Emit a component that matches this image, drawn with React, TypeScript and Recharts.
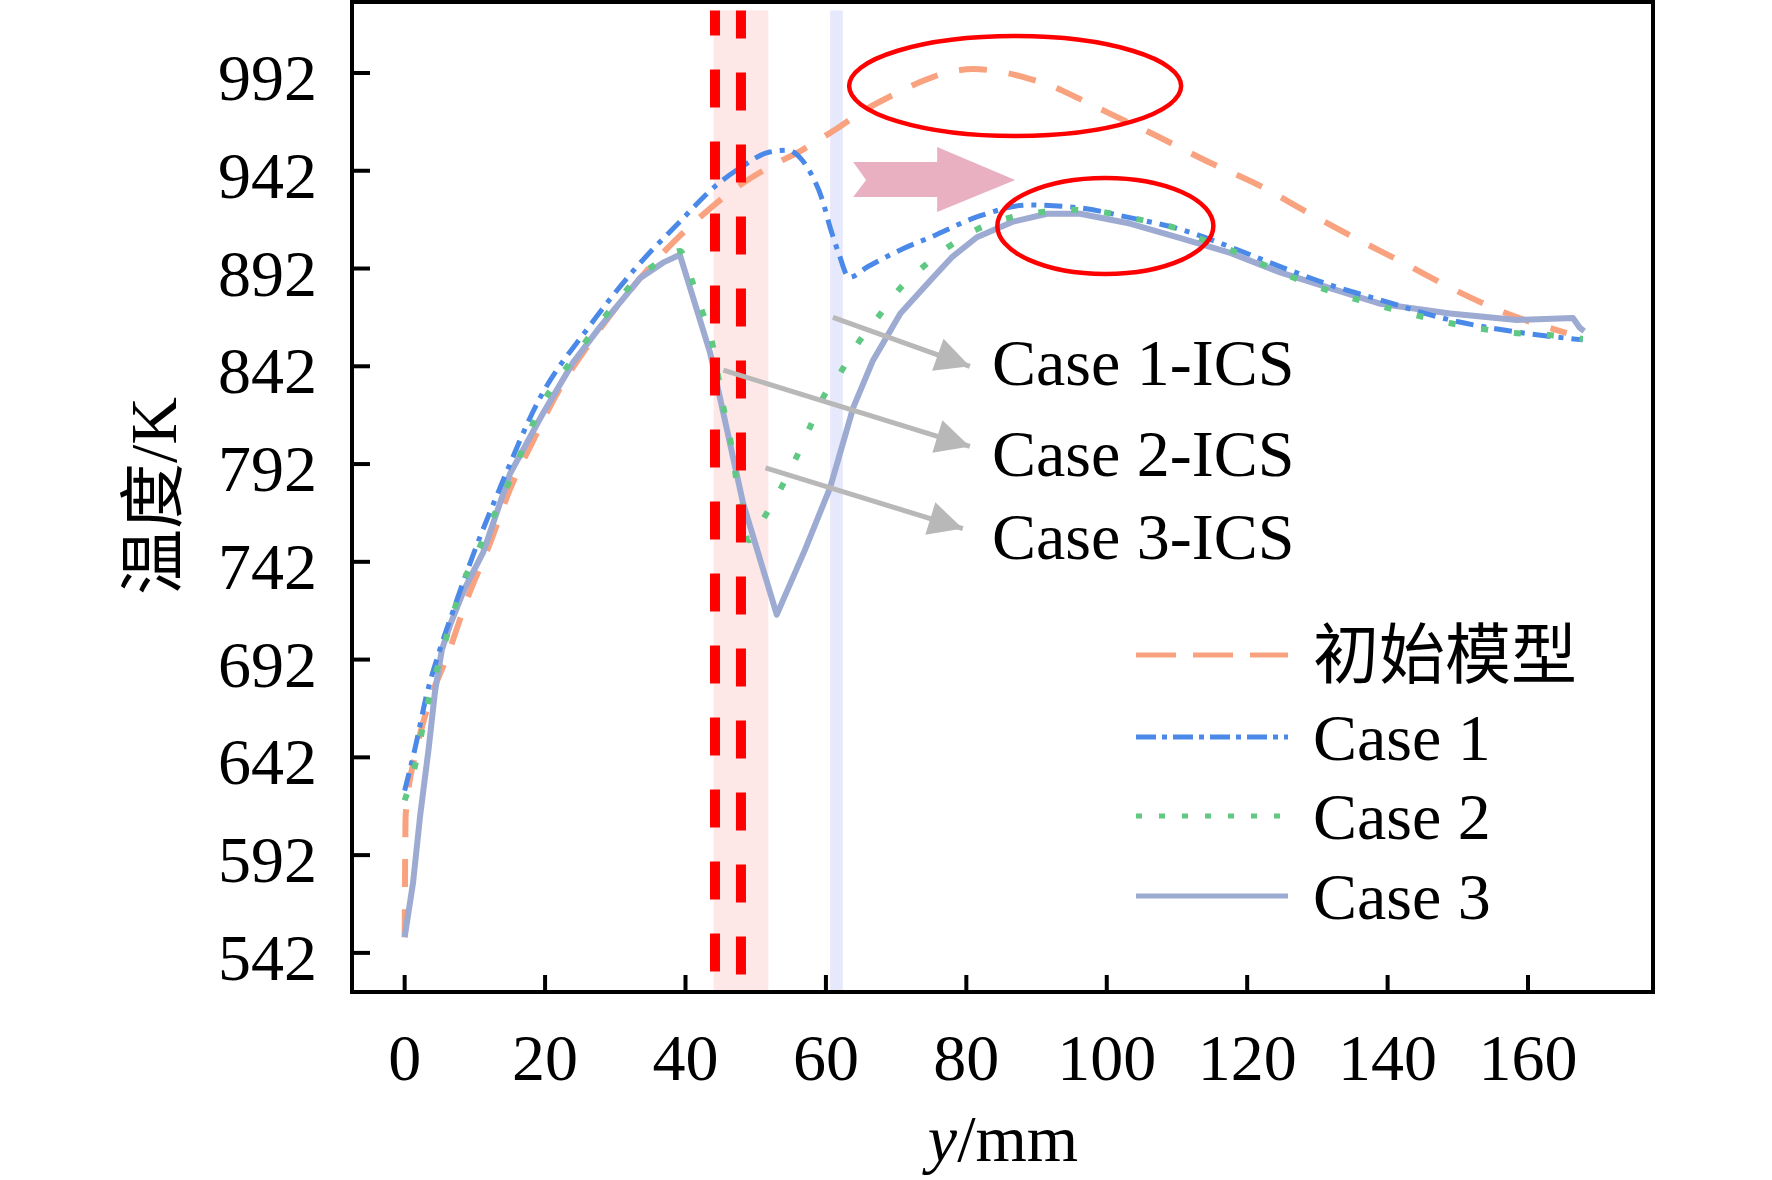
import React from 'react';
import { LineChart, Line, XAxis, YAxis, ReferenceArea, ReferenceLine, ReferenceDot } from 'recharts';

document.body.style.margin = '0';

// --- data (y in mm, temperature in K) ---
const initX = [0, 0.15, 1.7, 3.3, 6.2, 9, 12, 15, 18.3, 22, 26.4, 31, 36.8, 42, 47.5, 52, 56.6, 61.3, 65.5, 69.7, 73.5, 77, 81, 85, 89, 92.4, 96, 100, 107, 114.5, 122, 128.7, 135.7, 142.2, 149.6, 157, 164, 165.5];
const initT = [550, 613, 646, 668, 695, 724, 750, 779, 804, 830, 854, 876, 900, 918, 934, 944, 952.6, 963, 973, 981, 987.5, 992, 994, 992.5, 989, 985, 979, 972, 960, 946.5, 934, 920.5, 907, 895, 881, 869, 860.6, 859];

const case1X = [0, 1.5, 3.2, 5, 6.9, 9.8, 13.6, 19.3, 26, 32.6, 39.2, 44.2, 48, 52, 54.5, 56.6, 57.8, 59.5, 60.6, 61.8, 63.3, 66, 70.6, 74.9, 82, 89, 96.2, 103.3, 110.5, 117.6, 124.7, 131.8, 138.9, 148.9, 158.4, 167.8];
const case1T = [625, 647, 675, 697, 717, 746, 780, 826, 861, 891, 916, 934, 944, 951.6, 952.5, 947.5, 941, 927, 913, 900, 887.5, 893, 901.5, 908, 919, 924.5, 923, 918, 912, 903, 893, 883.6, 876, 865.7, 859.5, 855.5];

const case2X = [0, 1.5, 3, 4.6, 6, 8, 11, 15, 19.5, 24, 28, 33.5, 37, 39.2, 40.9, 42.3, 43.8, 45.4, 46.4, 47.8, 49, 50.9, 53.5, 55.6, 57.5, 59.6, 62.1, 64.6, 67.4, 70.6, 73.9, 77.4, 81.5, 86.2, 91, 95.3, 99.8, 104.7, 109.5, 113.8, 118, 122.3, 126.8, 131.3, 135.8, 142, 149, 158, 163, 167.8];
const case2T = [620, 638, 665, 687, 704, 728, 752, 784, 822, 846, 865, 888, 897, 901, 886, 871, 854, 821, 804, 771, 753, 763, 779, 794, 809, 826, 839, 854, 867, 882, 893, 903, 912, 918, 921, 922, 920.6, 917, 913, 906.6, 901, 894, 887, 881, 876, 870, 864, 859, 858, 856];

const case3X = [0, 1.2, 2.2, 3.4, 4.3, 5.3, 6.5, 8.5, 11.2, 15, 19.7, 24, 27.8, 33.5, 36.8, 39.2, 43.5, 48.2, 53, 57, 60.6, 63.9, 66.7, 70.6, 74.9, 78, 81.5, 86.7, 91.5, 96.2, 103.3, 110.5, 117.6, 124.7, 131.8, 138.9, 148.9, 158.4, 166.4, 167.4, 168];
const case3T = [550, 578, 612, 646, 675, 697, 710, 728, 747, 787, 818, 844, 862, 887, 895, 899, 849, 772, 715, 748, 780, 821, 845, 869, 886, 898, 908, 916, 920, 920, 915, 907.6, 900, 890, 882, 874, 869, 865.7, 866.7, 861.6, 860];

const xTicks = [0, 20, 40, 60, 80, 100, 120, 140, 160];
const yTicks = [542, 592, 642, 692, 742, 792, 842, 892, 942, 992];

const legendNames = ['初始模型', 'Case 1', 'Case 2', 'Case 3'];
const icsNames = ['Case 1-ICS', 'Case 2-ICS', 'Case 3-ICS'];

// --- layout ---
const W = 1772;
const H = 1180;
const PLOT = { left: 352, right: 1653, top: 2, bottom: 992 };
const X_DOMAIN: [number, number] = [-7.5, 177.8];
const Y_DOMAIN: [number, number] = [522, 1028.3];
const SERIF = "'Times New Roman', 'Liberation Serif', 'Noto Sans CJK SC', serif";
const FS = 66;

const kx = (PLOT.right - PLOT.left) / (X_DOMAIN[1] - X_DOMAIN[0]);
const ky = (PLOT.bottom - PLOT.top) / (Y_DOMAIN[1] - Y_DOMAIN[0]);

const toPoints = (xs: number[], ts: number[]) => xs.map((x, i) => ({ x, t: ts[i] }));
const initData = toPoints(initX, initT);
const case1Data = toPoints(case1X, case1T);
const case2Data = toPoints(case2X, case2T);
const case3Data = toPoints(case3X, case3T);

// annotation anchors in data units
const ICS_ARROWS = [
  { from: { x: 61.0, y: 867 }, to: { x: 80.5, y: 842 } },
  { from: { x: 45.4, y: 840 }, to: { x: 80.5, y: 801 } },
  { from: { x: 51.4, y: 790 }, to: { x: 79.5, y: 759 } },
];

const COLORS = {
  init: '#f9a27f',
  case1: '#4a89e8',
  case2: '#5fc883',
  case3: '#9daad2',
  red: '#ff0000',
  gray: '#b8b8b8',
};

const XTick = (props: any) => {
  const { x, payload } = props;
  return (
    <g>
      <line x1={x} y1={PLOT.bottom} x2={x} y2={PLOT.bottom - 17} stroke="#000" strokeWidth={4} />
      <text x={x} y={1080} textAnchor="middle" fontSize={FS} fontFamily={SERIF} fill="#000">
        {payload.value}
      </text>
    </g>
  );
};

const YTick = (props: any) => {
  const { y, payload } = props;
  return (
    <g>
      <line x1={PLOT.left} y1={y} x2={PLOT.left + 18} y2={y} stroke="#000" strokeWidth={4} />
      <text x={317} y={y + 27} textAnchor="end" fontSize={FS} fontFamily={SERIF} fill="#000">
        {payload.value}
      </text>
    </g>
  );
};

const Ellipse = (rx: number, ry: number) => (props: any) => (
  <ellipse cx={props.cx} cy={props.cy} rx={rx} ry={ry} fill="none" stroke={COLORS.red} strokeWidth={4.5} />
);

const ArrowHead = (from: { x: number; y: number }, to: { x: number; y: number }) => (props: any) => {
  const dx = (to.x - from.x) * kx;
  const dy = -(to.y - from.y) * ky;
  const ang = (Math.atan2(dy, dx) * 180) / Math.PI;
  return (
    <polygon
      points="0,0 -34,-17 -34,17"
      fill={COLORS.gray}
      transform={`translate(${props.cx},${props.cy}) rotate(${ang})`}
    />
  );
};

const PinkArrow = (props: any) => (
  <polygon
    points="0,0 -78,-33 -78,-18 -162,-18 -149,0 -162,17 -78,17 -78,32"
    fill="#e8b0c1"
    transform={`translate(${props.cx},${props.cy})`}
  />
);

export default function App() {
  const legendY = [655, 737, 816, 896];
  const legendStyles = [
    { stroke: COLORS.init, dash: '40 17', width: 5 },
    { stroke: COLORS.case1, dash: '20 6 5 6', width: 5 },
    { stroke: COLORS.case2, dash: '6 17', width: 5 },
    { stroke: COLORS.case3, dash: undefined, width: 5 },
  ];
  const icsY = [362, 453, 536];

  return (
    <div style={{ position: 'relative', width: W, height: H, background: '#fff' }}>
      <LineChart width={W} height={H} margin={{ top: PLOT.top, right: W - PLOT.right, bottom: 0, left: 0 }}>
        <XAxis
          type="number"
          dataKey="x"
          domain={X_DOMAIN}
          ticks={xTicks}
          interval={0}
          allowDataOverflow
          height={H - PLOT.bottom}
          axisLine={false}
          tickLine={false}
          tickSize={0}
          tickMargin={0}
          tick={(p: any) => <XTick {...p} />}
        />
        <YAxis
          type="number"
          domain={Y_DOMAIN}
          ticks={yTicks}
          interval={0}
          allowDataOverflow
          width={PLOT.left}
          axisLine={false}
          tickLine={false}
          tickSize={0}
          tickMargin={0}
          tick={(p: any) => <YTick {...p} />}
        />

        {/* shaded zones */}
        <ReferenceArea x1={44} x2={51.8} y1={522.5} y2={1024} fill="#fde7e7" fillOpacity={1} stroke="none" />
        <ReferenceArea x1={60.6} x2={62.4} y1={522.5} y2={1024} fill="#e6e8fb" fillOpacity={1} stroke="none" />

        <Line data={initData} dataKey="t" type="monotone" stroke={COLORS.init} strokeWidth={6} strokeDasharray="28 22" dot={false} isAnimationActive={false} />
        <Line data={case3Data} dataKey="t" type="linear" stroke={COLORS.case3} strokeWidth={6} strokeLinejoin="round" dot={false} isAnimationActive={false} />
        <Line data={case1Data} dataKey="t" type="monotone" stroke={COLORS.case1} strokeWidth={5} strokeDasharray="18 8 5 8" dot={false} isAnimationActive={false} />
        <Line data={case2Data} dataKey="t" type="monotone" stroke={COLORS.case2} strokeWidth={6} strokeDasharray="7 26" dot={false} isAnimationActive={false} />

        {/* red dashed markers */}
        <ReferenceLine segment={[{ x: 44.2, y: 1024 }, { x: 44.2, y: 523 }]} stroke={COLORS.red} strokeWidth={10} strokeDasharray="38 34" strokeDashoffset={13} />
        <ReferenceLine segment={[{ x: 47.9, y: 1024 }, { x: 47.9, y: 523 }]} stroke={COLORS.red} strokeWidth={10} strokeDasharray="38 34" strokeDashoffset={10} />

        {/* highlight ellipses and shift arrow */}
        <ReferenceDot x={86.95} y={985.3} r={1} shape={Ellipse(166, 50)} />
        <ReferenceDot x={99.8} y={913.8} r={1} shape={Ellipse(108, 48)} />
        <ReferenceDot x={86.95} y={937.3} r={1} shape={PinkArrow} />

        {/* ICS pointer arrows */}
        {ICS_ARROWS.map((a, i) => (
          <ReferenceLine key={`l${i}`} segment={[a.from, a.to]} stroke={COLORS.gray} strokeWidth={5} />
        ))}
        {ICS_ARROWS.map((a, i) => (
          <ReferenceDot key={`h${i}`} x={a.to.x} y={a.to.y} r={1} shape={ArrowHead(a.from, a.to)} />
        ))}
      </LineChart>

      <svg width={W} height={H} style={{ position: 'absolute', left: 0, top: 0, pointerEvents: 'none' }}>
        <rect x={PLOT.left} y={PLOT.top} width={PLOT.right - PLOT.left} height={PLOT.bottom - PLOT.top} fill="none" stroke="#000" strokeWidth={4} />

        {icsNames.map((n, i) => (
          <text key={n} x={992} y={icsY[i]} dominantBaseline="central" fontSize={FS} fontFamily={SERIF} fill="#000">
            {n}
          </text>
        ))}

        {legendNames.map((n, i) => (
          <g key={n}>
            <line
              x1={1136}
              x2={1288}
              y1={legendY[i]}
              y2={legendY[i]}
              stroke={legendStyles[i].stroke}
              strokeWidth={legendStyles[i].width}
              strokeDasharray={legendStyles[i].dash}
            />
            <text x={1313} y={legendY[i]} dominantBaseline="central" fontSize={FS} fontFamily={SERIF} fill="#000">
              {n}
            </text>
          </g>
        ))}

        <text
          x={153}
          y={496}
          transform="rotate(-90 153 496)"
          textAnchor="middle"
          dominantBaseline="central"
          fontSize={FS}
          fontFamily={SERIF}
          fill="#000"
        >
          温度/K
        </text>
        <text x={1003} y={1161} textAnchor="middle" fontSize={FS} fontFamily={SERIF} fill="#000">
          <tspan fontStyle="italic">y</tspan>/mm
        </text>
      </svg>
    </div>
  );
}
